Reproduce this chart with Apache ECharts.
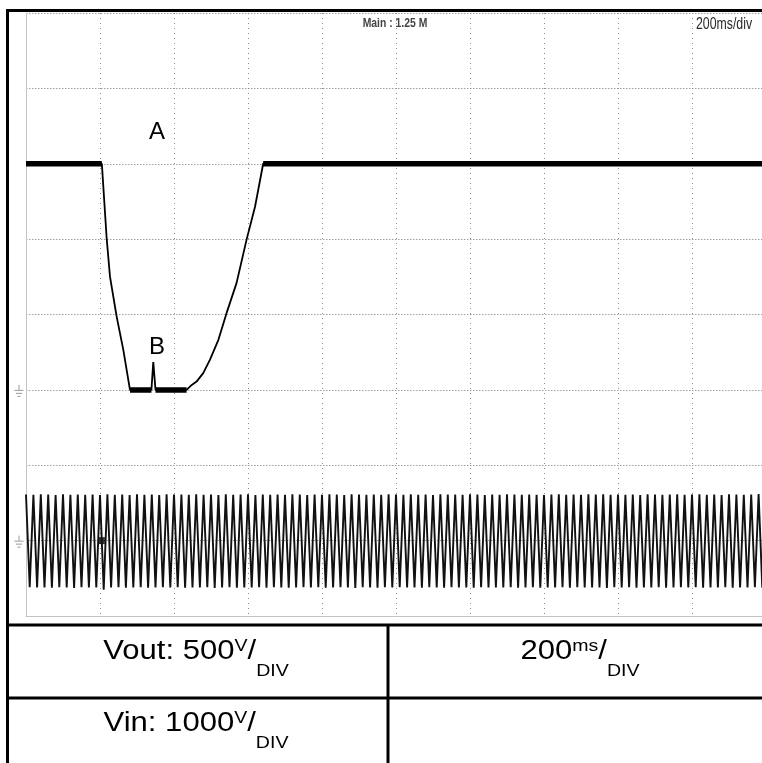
<!DOCTYPE html>
<html>
<head>
<meta charset="utf-8">
<script src="https://cdn.jsdelivr.net/npm/echarts@6/dist/echarts.min.js"></script>
<style>
  html, body { margin: 0; padding: 0; background: #fff; }
  #scope { width: 762px; height: 763px; }
</style>
</head>
<body>
<div id="scope"></div>
<script>
// ---- time base (ms) ----
const timeMin = 0;
const timeMax = 2000;
const timeDiv = 200;

// ---- output voltage trace (V), channel 500 V/div ----
const voutTime  = [0, 205, 218, 227, 245, 263, 281, 339, 344, 350, 434, 448, 461, 479, 497, 520, 542, 569, 596, 619, 641, 2000];
const voutValue = [1500, 1500, 1006, 751, 486, 265, 0, 0, 185, 0, 0, 33, 55, 111, 199, 332, 509, 708, 995, 1215, 1500, 1500];
const voutRange = [-1500, 2500];
const voutDiv = 500;

// ---- input voltage trace (V), channel 1000 V/div: successive peaks every 10 ms ----
const vinStep = 10;
const vinExtremes = [
  612,-618,608,-622,615,-620,610,-625,606,-619,614,-621,609,-627,611,-618,607,-623,613,-620,
  604,-650,616,-622,608,-619,612,-624,605,-620,614,-617,609,-626,611,-621,606,-619,615,-623,
  610,-618,613,-625,607,-620,616,-622,609,-619,611,-627,605,-621,614,-618,608,-624,612,-620,
  615,-622,606,-619,611,-625,609,-618,613,-621,607,-626,614,-620,610,-617,605,-623,612,-619,
  608,-624,614,-620,610,-618,606,-622,615,-627,611,-619,608,-621,613,-625,609,-618,616,-620,
  611,-619,607,-623,614,-620,609,-626,612,-618,606,-621,615,-624,610,-619,613,-622,607,-620,
  614,-625,610,-618,606,-621,613,-620,608,-623,615,-619,611,-626,607,-620,612,-618,609,-624,
  606,-620,612,-622,615,-619,609,-625,611,-618,607,-621,614,-623,610,-620,616,-627,608,-619,
  613,-621,609,-618,611,-624,606,-620,614,-622,610,-619,607,-626,612,-620,615,-618,609,-623,
  610,-619,614,-625,608,-620,612,-621,606,-618,615,-624,611,-620,609,-622,613,-619,618,-626,
  612
];
const vinGlitch = [[205, 0]];
const vinRange = [-1000, 7000];
const vinDiv = 1000;

// ---- annotations on the output trace ----
const noteText  = ['A', 'B'];
const noteTime  = [354, 354];
const noteValue = [1705, 285];

// ---- caption table ----
const capVout = ['Vout: 500', 'V'];
const capTime = ['200', 'ms'];
const capVin  = ['Vin: 1000', 'V'];
const headerLeft = 'Main : 1.25 M';
const headerRight = '200ms/div';

// ---------------------------------------------------------------
const voutData = voutTime.map((t, i) => [t, voutValue[i]]);

// steady (noisy, thick) stretches of the output trace
const voutSteady = [];
for (let i = 0; i < voutTime.length - 1; i++) {
  if (voutValue[i] === voutValue[i + 1]) {
    voutSteady.push([voutTime[i], voutValue[i]], [voutTime[i + 1], voutValue[i + 1]], '-');
  }
}

const vinData = vinExtremes.map((v, i) => [timeMin + i * vinStep, v]);

const chart = echarts.init(document.getElementById('scope'), null, { renderer: 'canvas' });

const gridColor = '#8c8c8c';

chart.setOption({
  animation: false,
  backgroundColor: '#ffffff',
  grid: { left: 26, top: 13, width: 740, height: 603, containLabel: false, outerBoundsMode: 'none' },
  xAxis: {
    type: 'value', min: timeMin, max: timeMax, interval: timeDiv,
    axisLabel: { show: false }, axisTick: { show: false },
    axisLine: { show: true, onZero: false, lineStyle: { color: '#c4c4c4', width: 1 } },
    splitLine: { show: true, lineStyle: { color: gridColor, type: [1, 4], width: 1 } }
  },
  yAxis: [
    {
      type: 'value', min: voutRange[0], max: voutRange[1], interval: voutDiv,
      axisLabel: { show: false }, axisTick: { show: false },
      axisLine: { show: true, onZero: false, lineStyle: { color: '#c4c4c4', width: 1 } },
      splitLine: { show: true, lineStyle: { color: '#a0a0a0', type: [1.5, 1.5], width: 1 } }
    },
    {
      type: 'value', min: vinRange[0], max: vinRange[1], interval: vinDiv,
      show: false, splitLine: { show: false }
    }
  ],
  series: [
    {
      name: 'Vin', type: 'line', yAxisIndex: 1, data: vinData,
      symbol: 'none', sampling: null, silent: true,
      lineStyle: { color: '#111', width: 1.9 }
    },
    {
      name: 'Vin glitch', type: 'scatter', yAxisIndex: 1, data: vinGlitch,
      symbol: 'rect', symbolSize: [6, 7], silent: true,
      itemStyle: { color: '#000' }
    },
    {
      name: 'Vout', type: 'line', yAxisIndex: 0, data: voutData,
      symbol: 'none', silent: true,
      lineStyle: { color: '#000', width: 1.8 }
    },
    {
      name: 'Vout steady', type: 'line', yAxisIndex: 0, data: voutSteady,
      symbol: 'none', silent: true, connectNulls: false,
      lineStyle: { color: '#000', width: 5.5 }
    }
  ]
});

// ---- overlay graphics: frame, caption table, annotations, ground markers ----
const sansFont = "'Liberation Sans', Arial, sans-serif";

function frameLine(x1, y1, x2, y2) {
  return { type: 'line', shape: { x1, y1, x2, y2 }, style: { stroke: '#000', lineWidth: 3 }, silent: true, z: 100 };
}

function caption(cx, cy, parts, sx) {
  return {
    type: 'text', x: cx, y: cy, scaleX: sx, silent: true, z: 100,
    style: {
      text: '{m|' + parts[0] + '}{sup|' + parts[1] + '}{m|/}{sub|DIV}',
      align: 'center', verticalAlign: 'middle',
      rich: {
        m:   { fontSize: 27, fontFamily: sansFont, fill: '#000', verticalAlign: 'middle', lineHeight: 64 },
        sup: { fontSize: 17, fontFamily: sansFont, fill: '#000', verticalAlign: 'middle', lineHeight: 17, padding: [0, 0, 12, 0] },
        sub: { fontSize: 17, fontFamily: sansFont, fill: '#000', verticalAlign: 'middle', lineHeight: 17, padding: [38, 0, 0, 0] }
      }
    }
  };
}

function groundMark(x, y) {
  const c = '#9a9a9a';
  const seg = (x1, y1, x2, y2) => ({ type: 'line', shape: { x1, y1, x2, y2 }, style: { stroke: c, lineWidth: 1 }, silent: true });
  return {
    type: 'group', silent: true, z: 90,
    children: [
      seg(x, y - 5, x, y),
      seg(x - 4.5, y + 0.5, x + 4.5, y + 0.5),
      seg(x - 3, y + 3.5, x + 3, y + 3.5),
      seg(x - 1.5, y + 6.5, x + 1.5, y + 6.5)
    ]
  };
}

const notes = noteText.map((txt, i) => {
  const p = chart.convertToPixel({ xAxisIndex: 0, yAxisIndex: 0 }, [noteTime[i], noteValue[i]]);
  return {
    type: 'text', x: p[0], y: p[1], silent: true, z: 100,
    style: { text: txt, fontSize: 24, fontFamily: sansFont, fill: '#000', align: 'center', verticalAlign: 'middle' }
  };
});

const voutZero = chart.convertToPixel({ yAxisIndex: 0 }, 0);
const vinZero = chart.convertToPixel({ yAxisIndex: 1 }, 0);

chart.setOption({
  graphic: [
    frameLine(6, 10.5, 762, 10.5),
    frameLine(7.5, 9, 7.5, 763),
    frameLine(6, 625, 762, 625),
    frameLine(6, 698, 762, 698),
    frameLine(388, 624, 388, 763),
    {
      type: 'text', x: 395, y: 23, scaleX: 0.8, silent: true, z: 100,
      style: { text: headerLeft, fontSize: 13, fontWeight: 'bold', fontFamily: sansFont, fill: '#444', align: 'center', verticalAlign: 'middle' }
    },
    {
      type: 'text', x: 724, y: 25, scaleX: 0.77, silent: true, z: 100,
      style: { text: headerRight, fontSize: 16, fontFamily: sansFont, fill: '#2a2a2a', align: 'center', verticalAlign: 'middle' }
    },
    caption(196, 652, capVout, 1.15),
    caption(580, 652, capTime, 1.15),
    caption(196, 724, capVin, 1.15),
    groundMark(19, voutZero),
    groundMark(19, vinZero),
    ...notes
  ]
});
</script>
</body>
</html>
